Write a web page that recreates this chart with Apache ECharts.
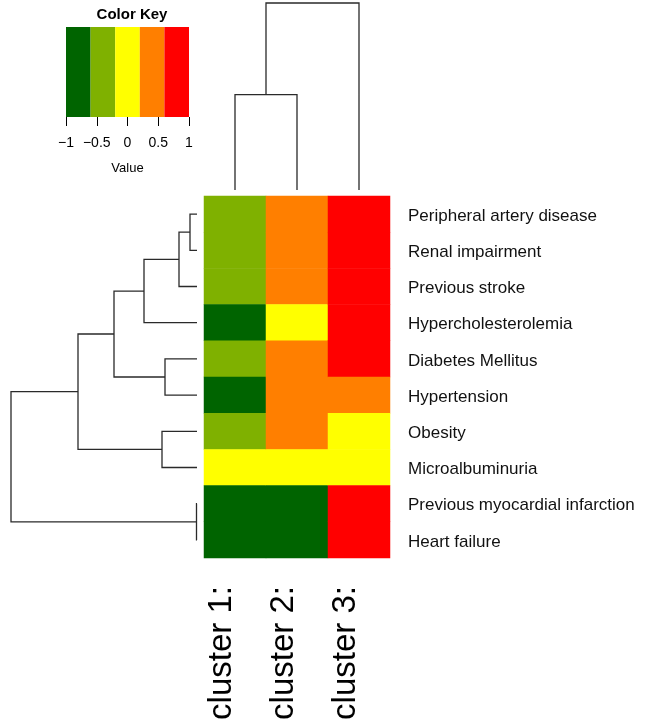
<!DOCTYPE html>
<html><head><meta charset="utf-8">
<script src="https://cdn.jsdelivr.net/npm/echarts@6/dist/echarts.min.js"></script>
<style>html,body{margin:0;padding:0;background:#fff}#c{width:647px;height:728px}</style>
</head><body><div id="c"></div>
<script>
// ---- data ----
var clusters = ['cluster 1:', 'cluster 2:', 'cluster 3:'];
var rows = ['Peripheral artery disease','Renal impairment','Previous stroke','Hypercholesterolemia','Diabetes Mellitus','Hypertension','Obesity','Microalbuminuria','Previous myocardial infarction','Heart failure'];
var cluster1 = [-0.4,-0.4,-0.4,-0.8,-0.4,-0.8,-0.4, 0.0,-0.8,-0.8];
var cluster2 = [ 0.4, 0.4, 0.4, 0.0, 0.4, 0.4, 0.4, 0.0,-0.8,-0.8];
var cluster3 = [ 0.8, 0.8, 0.8, 0.8, 0.8, 0.4, 0.0, 0.0, 0.8, 0.8];
var keyBreaks = [-1, -0.6, -0.2, 0.2, 0.6, 1];
var keyColors = ['#006400', '#7FB100', '#FFFF00', '#FF7F00', '#FF0000'];
var keyTicks = [-1, -0.5, 0, 0.5, 1];
// hclust-style merges: negative = leaf (display order, 1-based), positive = earlier merge
var rowMerges = [[-1,-2],[1,-3],[2,-4],[-5,-6],[3,4],[-7,-8],[5,6],[-9,-10],[7,8]];
var rowHeights = [0.07, 0.18, 0.53, 0.32, 0.83, 0.35, 1.19, 0.005, 1.86];
var colMerges = [[-1,-2],[1,-3]];
var colHeights = [0.953, 1.87];

// ---- build ----
var FONT = '"Liberation Sans", Arial, sans-serif';
var heatData = [];
[cluster1, cluster2, cluster3].forEach(function (col, ci) {
  col.forEach(function (v, ri) { heatData.push([ci, ri, v]); });
});
var keyData = [];
for (var i = 0; i < keyColors.length; i++) {
  keyData.push([keyBreaks[i], keyBreaks[i + 1], (keyBreaks[i] + keyBreaks[i + 1]) / 2]);
}
var pieces = keyColors.map(function (c, i) {
  return { gte: keyBreaks[i], lt: keyBreaks[i + 1] + (i === keyColors.length - 1 ? 1e-9 : 0), color: c };
});
function dendroSegments(merges, heights) {
  var pos = [], segs = [];
  function nodePos(id) { return id < 0 ? (-id - 1) + 0.5 : pos[id - 1]; }
  function nodeH(id) { return id < 0 ? 0 : heights[id - 1]; }
  merges.forEach(function (m, k) {
    var p1 = nodePos(m[0]), p2 = nodePos(m[1]);
    pos[k] = (p1 + p2) / 2;
    segs.push([heights[k], p1, p2, nodeH(m[0]), nodeH(m[1])]);
  });
  return segs;
}
var rowSegs = dendroSegments(rowMerges, rowHeights);
var colSegs = dendroSegments(colMerges, colHeights);

var lineStyle = { stroke: '#2a2a2a', lineWidth: 1.3, fill: null };

var chart = echarts.init(document.getElementById('c'), null, { renderer: 'canvas' });
chart.setOption({
  animation: false,
  backgroundColor: '#fff',
  textStyle: { fontFamily: FONT },
  title: {
    text: 'Color Key', left: 127, top: 2, textAlign: 'center',
    textStyle: { fontFamily: FONT, fontSize: 15, fontWeight: 'bold', color: '#000' }
  },
  visualMap: {
    type: 'piecewise', show: false, dimension: 2, seriesIndex: [0, 1],
    pieces: pieces
  },
  grid: [
    { left: 204, top: 196, width: 186, height: 362 },   // heatmap
    { left: 66, top: 27, width: 123, height: 90 },      // color key
    { left: 11, top: 196, width: 186, height: 362 },    // row dendrogram
    { left: 204, top: 3, width: 186, height: 187 }      // col dendrogram
  ],
  xAxis: [
    { gridIndex: 0, type: 'category', data: clusters, position: 'bottom',
      axisLine: { show: false }, axisTick: { show: false },
      axisLabel: { rotate: 90, margin: 28, fontSize: 33, lineHeight: 27, verticalAlign: 'bottom',
        color: '#000', fontFamily: FONT } },
    { gridIndex: 1, type: 'value', min: -1, max: 1, interval: 0.5,
      axisLine: { show: false }, splitLine: { show: false },
      axisTick: { show: true, length: 9, lineStyle: { color: '#000' } },
      axisLabel: { margin: 19, fontSize: 14, color: '#000', fontFamily: FONT,
        formatter: function (v) { return keyTicks.indexOf(v) >= 0 ? String(v).replace('-', '\u2212') : ''; } },
      name: 'Value', nameLocation: 'middle', nameGap: 45,
      nameTextStyle: { fontSize: 13, color: '#000', fontFamily: FONT } },
    { gridIndex: 2, type: 'value', min: 0, max: 1.86, inverse: true, show: false },
    { gridIndex: 3, type: 'value', min: 0, max: 1.87, show: false, min: 0, max: 3 }
  ],
  yAxis: [
    { gridIndex: 0, type: 'category', data: rows, inverse: true, position: 'right',
      axisLine: { show: false }, axisTick: { show: false },
      axisLabel: { margin: 18, color: '#111', fontFamily: FONT,
        formatter: function (v) { return '{a|' + v + '}'; },
        rich: { a: { fontSize: 17, color: '#111', fontFamily: FONT, padding: [4, 0, 0, 0] } } } },
    { gridIndex: 1, type: 'value', min: 0, max: 1, show: false },
    { gridIndex: 2, type: 'value', min: 0, max: 10, inverse: true, show: false },
    { gridIndex: 3, type: 'value', min: 0, max: 1.87, show: false }
  ],
  series: [
    { type: 'heatmap', xAxisIndex: 0, yAxisIndex: 0, data: heatData,
      itemStyle: { borderWidth: 0 }, emphasis: { disabled: true } },
    { type: 'custom', xAxisIndex: 1, yAxisIndex: 1, data: keyData,
      encode: { x: [0, 1], y: 2 },
      renderItem: function (params, api) {
        var a = api.coord([api.value(0), 1]);
        var b = api.coord([api.value(1), 0]);
        return { type: 'rect', shape: { x: a[0], y: a[1], width: b[0] - a[0], height: b[1] - a[1] },
          style: { fill: api.visual('color') } };
      } },
    { type: 'custom', xAxisIndex: 2, yAxisIndex: 2, data: rowSegs, clip: false,
      encode: { x: [0, 3, 4], y: [1, 2] },
      renderItem: function (params, api) {
        var h = api.value(0), y1 = api.value(1), y2 = api.value(2), h1 = api.value(3), h2 = api.value(4);
        return { type: 'polyline', shape: { points: [
          api.coord([h1, y1]), api.coord([h, y1]), api.coord([h, y2]), api.coord([h2, y2]) ] },
          style: lineStyle };
      } },
    { type: 'custom', xAxisIndex: 3, yAxisIndex: 3, data: colSegs, clip: false,
      encode: { x: [1, 2], y: [0, 3, 4] },
      renderItem: function (params, api) {
        var h = api.value(0), x1 = api.value(1), x2 = api.value(2), h1 = api.value(3), h2 = api.value(4);
        return { type: 'polyline', shape: { points: [
          api.coord([x1, h1]), api.coord([x1, h]), api.coord([x2, h]), api.coord([x2, h2]) ] },
          style: lineStyle };
      } }
  ]
});
</script>
</body></html>
